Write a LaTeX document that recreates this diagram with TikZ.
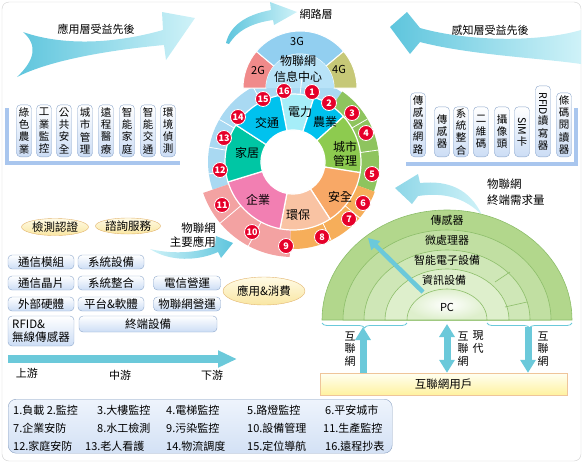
\documentclass[tikz,border=0pt]{standalone}
\usepackage{fontspec}
\setmainfont{Noto Sans CJK TC}
\usepackage{graphicx}
\usepackage{tikz}
\usetikzlibrary{shapes.geometric, arrows.meta, positioning, calc, decorations.pathreplacing}
\definecolor{framegray}{HTML}{CFCFCF}
\definecolor{swooshdk}{HTML}{5EC5DD}
\definecolor{swooshlt}{HTML}{CFF2F8}
\definecolor{pipecyan}{HTML}{6BC9DA}
\definecolor{tagline}{HTML}{8EA8CC}
\definecolor{tagfill}{HTML}{CCDDF5}
\definecolor{barblue}{HTML}{A9C6EE}
\definecolor{segdian}{HTML}{A6EEF8}
\definecolor{segcyan}{HTML}{00C2EE}
\definecolor{seggreen}{HTML}{8DCB4F}
\definecolor{segorange}{HTML}{F8A866}
\definecolor{segpeach}{HTML}{F9C3A3}
\definecolor{segpink}{HTML}{F27FB2}
\definecolor{segteal}{HTML}{00C6A4}
\definecolor{bandblue}{HTML}{A9D9F2}
\definecolor{bandgreen}{HTML}{8EC45E}
\definecolor{bandorange}{HTML}{F6AE5A}
\definecolor{bandpink}{HTML}{F3A2A2}
\definecolor{gtwo}{HTML}{F08A8A}
\definecolor{gthree}{HTML}{92CFF0}
\definecolor{gfour}{HTML}{C6C877}
\definecolor{domein}{HTML}{B8E3F8}
\definecolor{badgered}{HTML}{E6002A}
\definecolor{ovalline}{HTML}{E2B46E}
\definecolor{ovaltop}{HTML}{FFFBE6}
\definecolor{ovalbot}{HTML}{F9E6A2}
\definecolor{legline}{HTML}{8AA0C0}
\definecolor{legtop}{HTML}{EEF4FC}
\definecolor{legbot}{HTML}{D3E1F5}
\definecolor{leafa}{HTML}{B2D78C}
\definecolor{leafb}{HTML}{C1DFA2}
\definecolor{leafc}{HTML}{CFE7B7}
\definecolor{leafd}{HTML}{DEEFCC}
\definecolor{leafline}{HTML}{8DBE6A}
\definecolor{usertop}{HTML}{FFFFF2}
\definecolor{userbot}{HTML}{FFF2A0}
\definecolor{userline}{HTML}{EFC59A}

\tikzset{
  tagbox/.style={draw=tagline, rounded corners=4pt, top color=white, bottom color=tagfill,
    inner sep=1pt, minimum width=15pt, anchor=south, align=center,
    font=\fontsize{10.5}{12.2}\selectfont},
  btn/.style={draw=tagline, rounded corners=4pt, top color=white, bottom color=tagfill,
    minimum width=66pt, minimum height=14pt, inner sep=1pt, font=\fontsize{11.5}{13}\selectfont},
  oval/.style={ellipse, draw=ovalline, top color=ovaltop, bottom color=ovalbot, inner sep=0pt,
    font=\fontsize{11.5}{13}\selectfont},
  badge/.style={circle, fill=badgered, draw=white, line width=0.8pt, text=white,
    inner sep=0pt, minimum size=15pt, font=\fontsize{9}{9}\selectfont\bfseries},
  seg/.style={font=\fontsize{12}{14}\selectfont, align=center, inner sep=0pt},
  pipe/.style={draw=pipecyan, line width=7pt},
  vlabel/.style={align=center, font=\fontsize{11}{12.5}\selectfont, inner sep=0pt},
  legtext/.style={anchor=west, inner sep=0pt},
  bracket/.style={draw=pipecyan, line width=0.8pt, decorate,
    decoration={brace, mirror, amplitude=5pt}},
}

\begin{document}
\begin{tikzpicture}[x=1pt, y=-1pt, font=\fontsize{11}{13}\selectfont,
    >={Triangle[length=13pt, width=15pt]}]
  \useasboundingbox (0,0) rectangle (585,464);
  \draw[framegray, rounded corners=7pt] (2,2) rectangle (581,461);

  % swooshes at the top
  \shade[left color=swooshdk, right color=swooshlt]
    (23,32) .. controls (60,45) and (110,45) .. (163,30) -- (162,12) -- (195,18)
    -- (166,60) -- (164,45) .. controls (110,50) and (50,60) .. (17,77)
    .. controls (35,60) and (38,45) .. (23,32) -- cycle;
  \shade[left color=swooshdk, right color=swooshlt]
    (581,30) .. controls (540,42) and (470,42) .. (420,28) -- (407,12) -- (390,27)
    -- (410,54) -- (420,42) .. controls (470,55) and (540,58) .. (581,64) -- cycle;
  \shade[left color=swooshdk, right color=swooshlt]
    (226,43) .. controls (230,26) and (245,15) .. (271,10) -- (270,2) -- (297,12)
    -- (274,25) -- (273,20) .. controls (252,23) and (238,30) .. (229,44) -- cycle;
  \node (appGain) at (96,29) {應用層受益先後};
  \node (senseGain) at (490,30) {感知層受益先後};
  \node (netLayer) at (316,14) {網路層};

  % application tags
  \fill[barblue] (5,108) rectangle (9,165);
  \fill[barblue] (5,161) rectangle (180,165);
  \foreach \x/\txt [count=\i] in {24/{綠\\色\\農\\業}, 44/{工\\業\\監\\控}, 64/{公\\共\\安\\全},
      85/{城\\市\\管\\理}, 106/{遠\\程\\醫\\療}, 127/{智\\能\\家\\庭},
      148/{智\\能\\交\\通}, 168/{環\\境\\偵\\測}}
    \node[tagbox, minimum height=52] (app\i) at (\x,157) {\txt};

  % sensing tags
  \fill[barblue] (406,162) rectangle (578,166);
  \fill[barblue] (574,108) rectangle (578,166);
  \foreach \x/\h/\txt [count=\i] in {418/64/{傳\\感\\器\\網\\路}, 442/50/{傳\\感\\器},
      461/50/{系\\統\\整\\合}, 481/50/{二\\維\\碼}, 502/50/{攝\\像\\頭},
      522/50/{\rotatebox{-90}{SIM}\\卡}, 543/71/{\rotatebox{-90}{RFID}\\讀\\寫\\器},
      564/64/{條\\碼\\閱\\讀\\器}}
    \node[tagbox, minimum height=\h] (sense\i) at (\x,157) {\txt};

  % ring of applications
  \coordinate (hub) at (293,162);
  \foreach \a/\b/\r/\col in {-199/-55/85/bandblue, -55/20/86/bandgreen,
      20/92/87/bandorange, 92/161/95/bandpink}
    \fill[\col] ($(hub)+(\a:68)$) arc[start angle=\a, end angle=\b, radius=68]
      -- ($(hub)+(\b:\r)$) arc[start angle=\b, end angle=\a, radius=\r] -- cycle;
  \foreach \a/\r in {-150/85, -170/85, 172/85, -118/85, -30/86, -8/86, 40/87, 64/87,
      118/95, 140/95}
    \draw[white, line width=0.8pt] ($(hub)+(\a:68)$) -- ($(hub)+(\a:\r)$);
  \foreach \a/\b/\col in {-101/-72/segdian, -72/-42/segcyan, -42/9/seggreen,
      9/57/segorange, 57/101/segpeach, 101/163/segpink, 163/213/segteal, 213/259/segcyan}
    \filldraw[fill=\col, draw=white, line width=1.2pt]
      ($(hub)+(\a:32)$) arc[start angle=\a, end angle=\b, radius=32]
      -- ($(hub)+(\b:68)$) arc[start angle=\b, end angle=\a, radius=68] -- cycle;

  % network dome
  \coordinate (cloud) at (300,88);
  \foreach \a/\b/\col in {-180/-140/gtwo, -140/-40/gthree, -40/0/gfour}
    \filldraw[fill=\col, draw=white, line width=1pt]
      ($(cloud)+(\a:34)$) arc[start angle=\a, end angle=\b, radius=34]
      -- ($(cloud)+(\b:57)$) arc[start angle=\b, end angle=\a, radius=57] -- cycle;
  \fill[domein] ($(cloud)+(180:34)$) arc[start angle=180, end angle=360, radius=34] -- cycle;
  \draw[white, line width=0.8pt] ($(hub)+(-84:68)$) -- ($(hub)+(-84:84)$);
  \node (gThree) at (297,41) {3G};
  \node (gTwo) at (258,70) {2G};
  \node (gFour) at (339,69) {4G};
  \node[align=center, inner sep=0pt, font=\fontsize{12}{16}\selectfont] (center) at (298,69) {物聯網\\信息中心};

  \node[seg] (tDian) at (300,112) {電力};
  \node[seg] (tNong) at (325,122) {農業};
  \node[seg] (tCity) at (345,154) {城市\\管理};
  \node[seg] (tSafe) at (340,197) {安全};
  \node[seg] (tEnv) at (298,215) {環保};
  \node[seg] (tFirm) at (258,200) {企業};
  \node[seg] (tHome) at (247,153) {家居};
  \node[seg] (tTraf) at (267,123) {交通};

  \foreach \n/\x/\y in {1/312/92, 2/329/103, 3/352/113, 4/366/133, 5/372/174, 6/363/203,
      7/349/219, 8/322/237, 9/286/246, 10/252/232, 11/222/205, 12/220/170,
      13/224/138, 14/238/117, 15/263/99, 16/284/91}
    \node[badge] (b\n) at (\x,\y) {\n};

  % main use arrow and left blocks
  \shade[left color=swooshlt, right color=swooshdk]
    (150,249) .. controls (175,255) and (200,252) .. (215,246) -- (216,236) -- (233,243)
    -- (221,258) -- (218,252) .. controls (198,261) and (170,262) .. (150,249) -- cycle;
  \node[align=right, anchor=east, inner sep=0pt, font=\fontsize{11.5}{14}\selectfont] (mainUse) at (216,235) {物聯網\\主要應用};

  \node[oval, minimum width=67, minimum height=17] (testCert) at (55,227) {檢測認證};
  \node[oval, minimum width=60, minimum height=16] (consult) at (128,226) {諮詢服務};
  \node[oval, minimum width=82, minimum height=28] (consume) at (264,291) {應用\&消費};

  \node[btn] (comMod) at (41,262) {通信模組};
  \node[btn] (sysDev) at (111,262) {系統設備};
  \node[btn] (comChip) at (41,283) {通信晶片};
  \node[btn] (sysInt) at (111,283) {系統整合};
  \node[btn, minimum width=67] (telOp) at (187,283) {電信營運};
  \node[btn] (extHw) at (41,304) {外部硬體};
  \node[btn] (platSw) at (111,304) {平台\&軟體};
  \node[btn, minimum width=67] (iotOp) at (187,304) {物聯網營運};
  \node[btn, minimum height=30, align=left, font=\fontsize{11.5}{13.5}\selectfont] (rfidBox) at (41,331) {RFID\&\\無線傳感器};
  \node[btn, minimum width=138, minimum height=16] (termDev) at (148,324) {終端設備};

  % up- to downstream
  \coordinate (flow0) at (8,359);
  \coordinate (flow1) at (237,359);
  \draw[pipecyan, line width=8pt, -{Triangle[length=19pt, width=16pt]}] (flow0) -- (flow1);
  \node (upS) at (27,373) {上游};
  \node (midS) at (120,375) {中游};
  \node (downS) at (212,375) {下游};

  % terminal demand
  \shade[left color=swooshdk!70, right color=swooshlt]
    (482,215) .. controls (470,190) and (450,180) .. (420,183) -- (418,174) -- (395,188)
    -- (412,204) -- (418,196) .. controls (445,192) and (465,198) .. (482,215) -- cycle;
  \node[align=left, anchor=west, inner sep=0pt, font=\fontsize{11.5}{16}\selectfont] (demand) at (487,192) {物聯網\\終端需求量};

  \coordinate (pc) at (447,320);
  \foreach \rx/\ry/\col in {125/110/leafa, 104/90/leafb, 83/70/leafc, 62/51/leafd}
    \filldraw[fill=\col, draw=leafline, line width=0.6pt] ($(pc)+(-\rx,0)$)
      arc[start angle=180, end angle=360, x radius=\rx, y radius=\ry] -- cycle;
  \shadedraw[inner color=white, outer color=leafd, draw=leafline, line width=0.6pt]
    ($(pc)+(-40,0)$) arc[start angle=180, end angle=360, x radius=40, y radius=31] -- cycle;
  \draw[leafline, line width=0.6pt] (505,307) -- (527,302);
  \draw[leafline, line width=0.6pt] (495,282) -- (510,272);
  \node (lSensor) at (447,220) {傳感器};
  \node (lMcu) at (447,240) {微處理器};
  \node (lSmart) at (447,260) {智能電子設備};
  \node (lInfo) at (444,280) {資訊設備};
  \node[font=\fontsize{11}{13}\selectfont] (lPc) at (447,307) {PC};
  \coordinate (pcA) at (423,292);
  \coordinate (pcB) at (368,238);
  \draw[pipecyan, line width=4.5pt, -{Triangle[length=11pt, width=12pt]}] (pcA) -- (pcB);

  % internet users
  \draw[bracket] (322,323) -- (407,323);
  \draw[bracket] (487,323) -- (572,323);
  \node[draw=userline, top color=usertop, bottom color=userbot, minimum width=247,
    minimum height=22, font=\fontsize{11.5}{13}\selectfont] (user) at (443.5,384) {互聯網用戶};
  \coordinate (inL) at (363,327);
  \coordinate (inM) at (447,324);
  \coordinate (inR) at (528,327);
  \draw[pipe, ->] (inL |- user.north) -- (inL);
  \draw[pipe, <->] (inM |- user.north) -- (inM);
  \draw[pipe, ->] (inR) -- (inR |- user.north);
  \node[vlabel] (netL) at (350,349) {互\\聯\\網};
  \node[vlabel] (netM) at (463,349) {互\\聯\\網};
  \node[vlabel, anchor=north] (modern) at (478,331) {現\\代};
  \node[vlabel] (netR) at (543,349) {互\\聯\\網};

  % legend
  \node[draw=legline, rounded corners=8pt, top color=legtop, bottom color=legbot,
    minimum width=384, minimum height=54, anchor=north west] (legend) at (8,399) {};
  \foreach \x/\y/\txt [count=\i] in {13/410/{1.負載 2.監控}, 97/410/3.大樓監控, 166/410/4.電梯監控,
      247/410/5.路燈監控, 325/410/6.平安城市,
      13/428/7.企業安防, 97/428/8.水工檢測, 166/428/9.污染監控,
      247/428/10.設備管理, 323/428/11.生產監控,
      13/446/12.家庭安防, 85/446/13.老人看護, 166/446/14.物流調度,
      247/446/15.定位導航, 325/446/16.遠程抄表}
    \node[legtext] (leg\i) at (\x,\y) {\txt};
\end{tikzpicture}
\end{document}
